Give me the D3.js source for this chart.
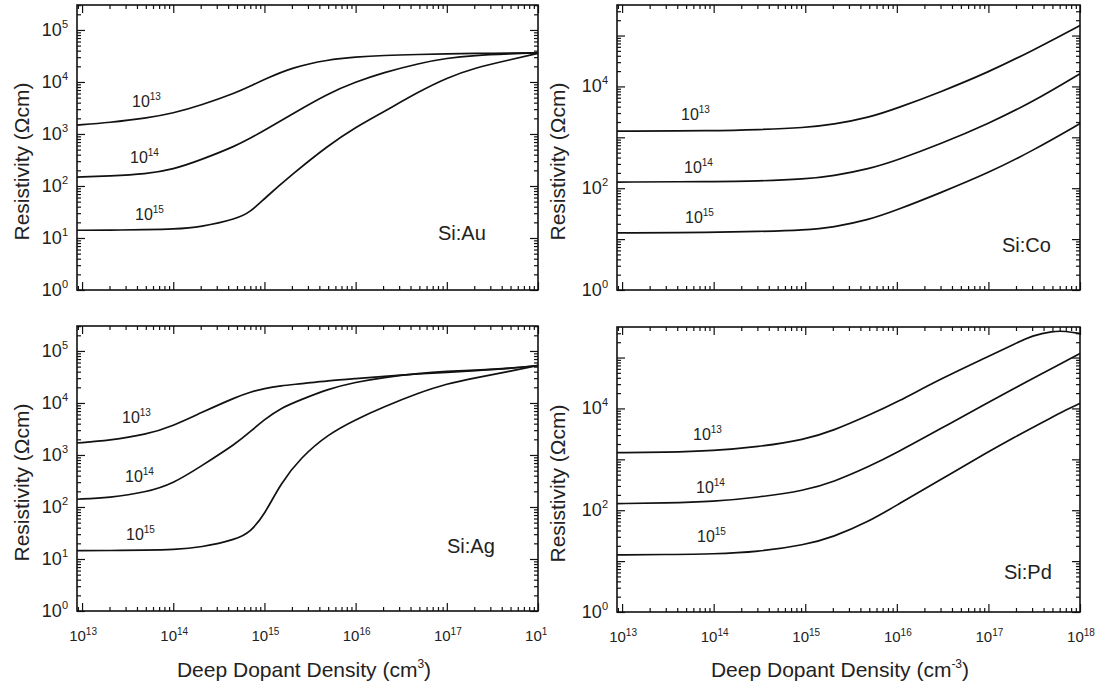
<!DOCTYPE html>
<html>
<head>
<meta charset="utf-8">
<script src="https://cdn.jsdelivr.net/npm/d3@7"></script>
<style>
  body { margin: 0; background: #fff; }
  svg text { font-family: "Liberation Sans", Arial, Helvetica, sans-serif; fill: #222; }
  .axis line { stroke: #111; stroke-width: 1.2; }
  .axis .domain { display: none; }
  .frame { fill: none; stroke: #111; stroke-width: 1.6; }
  .curve { fill: none; stroke: #111; stroke-width: 1.7; }
</style>
</head>
<body>
<svg id="chart" width="1105" height="686"></svg>
<script>
// deep dopant density (cm^-3) and resistivity (ohm cm), one curve per shallow doping 1e13 / 1e14 / 1e15
var auDensity = [8.8e12, 2e13, 5e13, 1e14, 2e14, 5e14, 7e14, 1e15, 2e15, 5e15, 1e16, 2e16, 5e16, 1e17, 2e17, 5e17, 1e18];
var auRho13 = [1480, 1660, 2000, 2510, 3550, 6310, 8320, 11200, 19100, 26900, 30200, 32400, 33900, 34700, 35500, 35900, 36300];
var auRho14 = [148, 156, 170, 209, 316, 603, 832, 1170, 2400, 6030, 10000, 15100, 22900, 28800, 32400, 34700, 36300];
var auRho15 = [14.1, 14.1, 14.5, 14.8, 16.2, 23.4, 31.6, 57.5, 166, 603, 1350, 2630, 6610, 12000, 18600, 26900, 35500];

var coDensity = [8.8e12, 1e14, 3e14, 1e15, 2e15, 5e15, 1e16, 3e16, 1e17, 3e17, 1e18];
var coRho13 = [1320, 1350, 1410, 1550, 1780, 2450, 3720, 7760, 19100, 50100, 158000];
var coRho14 = [132, 135, 138, 151, 174, 240, 355, 741, 1860, 4900, 17800];
var coRho15 = [13.2, 13.5, 14.1, 15.1, 17.0, 24.0, 37.2, 81.3, 200, 537, 1860];

var agDensity = [8.8e12, 2e13, 5e13, 1e14, 2e14, 5e14, 7e14, 1e15, 1.5e15, 2.5e15, 5e15, 1e16, 2e16, 5e16, 1e17, 2e17, 5e17, 1e18];
var agRho13 = [1700, 1910, 2450, 3630, 6460, 13200, 16200, 19100, 21400, 23400, 26900, 29500, 32400, 36300, 38900, 41700, 46000, 52500];
var agRho14 = [141, 151, 191, 282, 603, 1700, 2820, 4790, 7940, 11500, 18600, 25100, 30900, 37200, 40700, 42700, 46500, 52500];
var agRho15 = [14.5, 14.5, 14.8, 15.1, 16.6, 24.0, 33.1, 70.8, 282, 891, 2510, 4790, 8320, 15800, 23400, 30200, 41000, 52500];

var pdDensity = [8.8e12, 3e13, 1e14, 3e14, 1e15, 2e15, 5e15, 1e16, 3e16, 1e17, 2e17, 3e17, 5e17, 7e17, 1e18];
var pdRho13 = [1350, 1380, 1480, 1740, 2450, 3630, 7410, 13200, 38000, 105000, 191000, 269000, 331000, 331000, 295000];
var pdRho14 = [135, 138, 148, 178, 245, 355, 724, 1350, 3980, 13200, 25700, 38000, 61700, 85100, 120000];
var pdRho15 = [13.2, 13.5, 13.8, 15.1, 20.9, 29.5, 60.3, 126, 398, 1410, 2820, 4170, 6760, 9330, 12600];

var curveTags = ["13", "14", "15"];
var xTickExps = ["13", "14", "15", "16", "17", "18"];

var svg = d3.select("#chart");

var panels = [
  {name: "Si:Au", box: [77, 5, 538, 290], yTop: 5.48, yLabelExps: [0, 1, 2, 3, 4, 5],
   density: auDensity, series: [auRho13, auRho14, auRho15],
   tags: [[55, 102], [53, 158], [58, 215]], nameAt: [361, 235], titleX: 29, xLabels: false},
  {name: "Si:Co", box: [617, 5, 1080, 290], yTop: 5.6, yLabelExps: [0, 2, 4],
   density: coDensity, series: [coRho13, coRho14, coRho15],
   tags: [[64, 115], [67, 168], [68, 218]], nameAt: [385, 247], titleX: 565, xLabels: false},
  {name: "Si:Ag", box: [77, 326, 538, 611], yTop: 5.48, yLabelExps: [0, 1, 2, 3, 4, 5],
   density: agDensity, series: [agRho13, agRho14, agRho15],
   tags: [[45, 97], [48, 156], [49, 214]], nameAt: [370, 227], titleX: 29, xLabels: true, clipX: 470},
  {name: "Si:Pd", box: [617, 327, 1080, 612], yTop: 5.6, yLabelExps: [0, 2, 4],
   density: pdDensity, series: [pdRho13, pdRho14, pdRho15],
   tags: [[76, 113], [79, 166], [80, 215]], nameAt: [387, 252], titleX: 565, xLabels: true}
];

var xDomain = [8.8e12, 1e18];

function pow10(text, exp, big, small) {
  text.append("tspan").attr("font-size", big).text("10");
  text.append("tspan").attr("font-size", small).attr("dy", -Math.round(big * 0.42)).text(exp);
}

function logTicks(lo, hi) {
  var major = [], minor = [];
  for (var e = Math.floor(Math.log10(lo)); e <= Math.ceil(Math.log10(hi)); e++) {
    var base = Math.pow(10, e);
    if (base >= lo * 0.999 && base <= hi * 1.001) major.push(base);
    for (var k = 2; k < 10; k++) {
      var v = k * base;
      if (v >= lo && v <= hi) minor.push(v);
    }
  }
  return {major: major, minor: minor};
}

panels.forEach(function(p, pi) {
  var w = p.box[2] - p.box[0], h = p.box[3] - p.box[1];
  var g = svg.append("g").attr("transform", "translate(" + p.box[0] + "," + p.box[1] + ")");

  var x = d3.scaleLog().domain(xDomain).range([0, w]);
  var y = d3.scaleLog().domain([1, Math.pow(10, p.yTop)]).range([h, 0]);

  var xt = logTicks(xDomain[0], xDomain[1]);
  var yt = logTicks(1, Math.pow(10, p.yTop));

  // inward ticks on all four sides
  [[d3.axisBottom, x, "translate(0," + h + ")"], [d3.axisTop, x, null],
   [d3.axisLeft, y, null], [d3.axisRight, y, "translate(" + w + ",0)"]].forEach(function(a) {
    var t = a[1] === x ? xt : yt;
    g.append("g").attr("class", "axis").attr("transform", a[2])
      .call(a[0](a[1]).tickValues(t.minor).tickSize(-4).tickFormat(""));
    g.append("g").attr("class", "axis").attr("transform", a[2])
      .call(a[0](a[1]).tickValues(t.major).tickSize(-8).tickFormat(""));
  });

  g.append("rect").attr("class", "frame").attr("width", w).attr("height", h);

  // y tick labels
  p.yLabelExps.forEach(function(e) {
    var t = g.append("text").attr("x", -9).attr("y", y(Math.pow(10, e)) + 6)
      .attr("text-anchor", "end");
    pow10(t, String(e), 18, 11);
  });

  // x tick labels
  if (p.xLabels) {
    var lab = g.append("g").attr("transform", "translate(0," + h + ")");
    if (p.clipX) {
      svg.append("clipPath").attr("id", "clip" + pi)
        .append("rect").attr("x", -60).attr("y", 0).attr("width", p.clipX + 60).attr("height", 80);
      lab.attr("clip-path", "url(#clip" + pi + ")");
    }
    xTickExps.forEach(function(e) {
      var t = lab.append("text").attr("x", x(Math.pow(10, +e)) + 1).attr("y", 30)
        .attr("text-anchor", "middle");
      pow10(t, e, 15, 10);
    });
  }

  // curves
  var line = d3.line()
    .x(function(d) { return x(d[0]); })
    .y(function(d) { return y(d[1]); })
    .curve(d3.curveBasis);

  p.series.forEach(function(s) {
    g.append("path").attr("class", "curve").datum(d3.zip(p.density, s)).attr("d", line);
  });

  // curve tags
  p.tags.forEach(function(tg, i) {
    var t = g.append("text").attr("x", tg[0]).attr("y", tg[1]);
    pow10(t, curveTags[i], 16, 10);
  });

  g.append("text").attr("x", p.nameAt[0]).attr("y", p.nameAt[1])
    .attr("font-size", 20).text(p.name);

  // y title
  svg.append("text")
    .attr("transform", "translate(" + p.titleX + "," + ((p.box[1] + p.box[3]) / 2 + 14) + ") rotate(-90)")
    .attr("text-anchor", "middle").attr("font-size", 21)
    .text("Resistivity (\u03A9cm)");
});

// x titles
[[304, "3"], [840, "-3"]].forEach(function(d) {
  var t = svg.append("text").attr("x", d[0]).attr("y", 677)
    .attr("text-anchor", "middle").attr("font-size", 21);
  t.append("tspan").text("Deep Dopant Density (cm");
  t.append("tspan").attr("font-size", 12).attr("dy", -9).text(d[1]);
  t.append("tspan").attr("dy", 9).text(")");
});
</script>
</body>
</html>
